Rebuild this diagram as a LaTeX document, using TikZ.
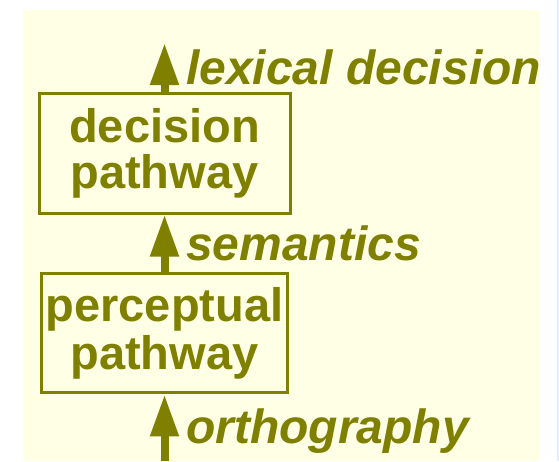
\documentclass[tikz,border=0pt]{standalone}
\usepackage{fontspec}
\setmainfont{Liberation Sans}
\usetikzlibrary{arrows.meta}
\definecolor{olive}{HTML}{808000}
\definecolor{paper}{HTML}{FFFFE6}
\definecolor{edgeblue}{HTML}{E4EEFC}
\tikzset{
  pathbox/.style={draw=olive, line width=3pt, inner sep=0pt, align=center,
    text=olive, font=\fontsize{47}{47}\selectfont\bfseries},
  flow/.style={draw=olive, line width=8pt,
    -{Triangle[length=42pt,width=27pt]}, fill=olive},
  flowlabel/.style={anchor=base west, inner sep=0pt, text=olive,
    font=\fontsize{48}{48}\selectfont\bfseries\itshape}
}
\begin{document}
\begin{tikzpicture}[x=1pt,y=-1pt]
  % canvas
  \useasboundingbox (0,0) rectangle (559,461);
  \fill[white] (0,0) rectangle (559,461);
  \fill[paper] (23,9.5) rectangle (538.5,461);
  \fill[edgeblue] (557,0) rectangle (559,461);

  % pathway boxes
  \node[pathbox, minimum width=251pt, minimum height=120pt]
    (dec) at (164.5,153) {decision\\[-1pt]pathway};
  \node[pathbox, minimum width=246.5pt, minimum height=119.3pt]
    (perc) at (164.5,333.3) {perceptual\\[1pt]pathway};

  % free ends of the outer arrows
  \coordinate (out) at (164.5,43);
  \coordinate (in) at (164.5,461);

  % arrows
  \draw[flow] (dec.north) -- (out);
  \draw[flow] (perc.north) -- (dec.south);
  \draw[flow] (in) -- (perc.south);

  % arrow labels
  \node[flowlabel] (lexlab) at (186,84) {lexical decision};
  \node[flowlabel] (semlab) at (186,260) {semantics};
  \node[flowlabel] (ortlab) at (186,443) {orthography};
\end{tikzpicture}
\end{document}
